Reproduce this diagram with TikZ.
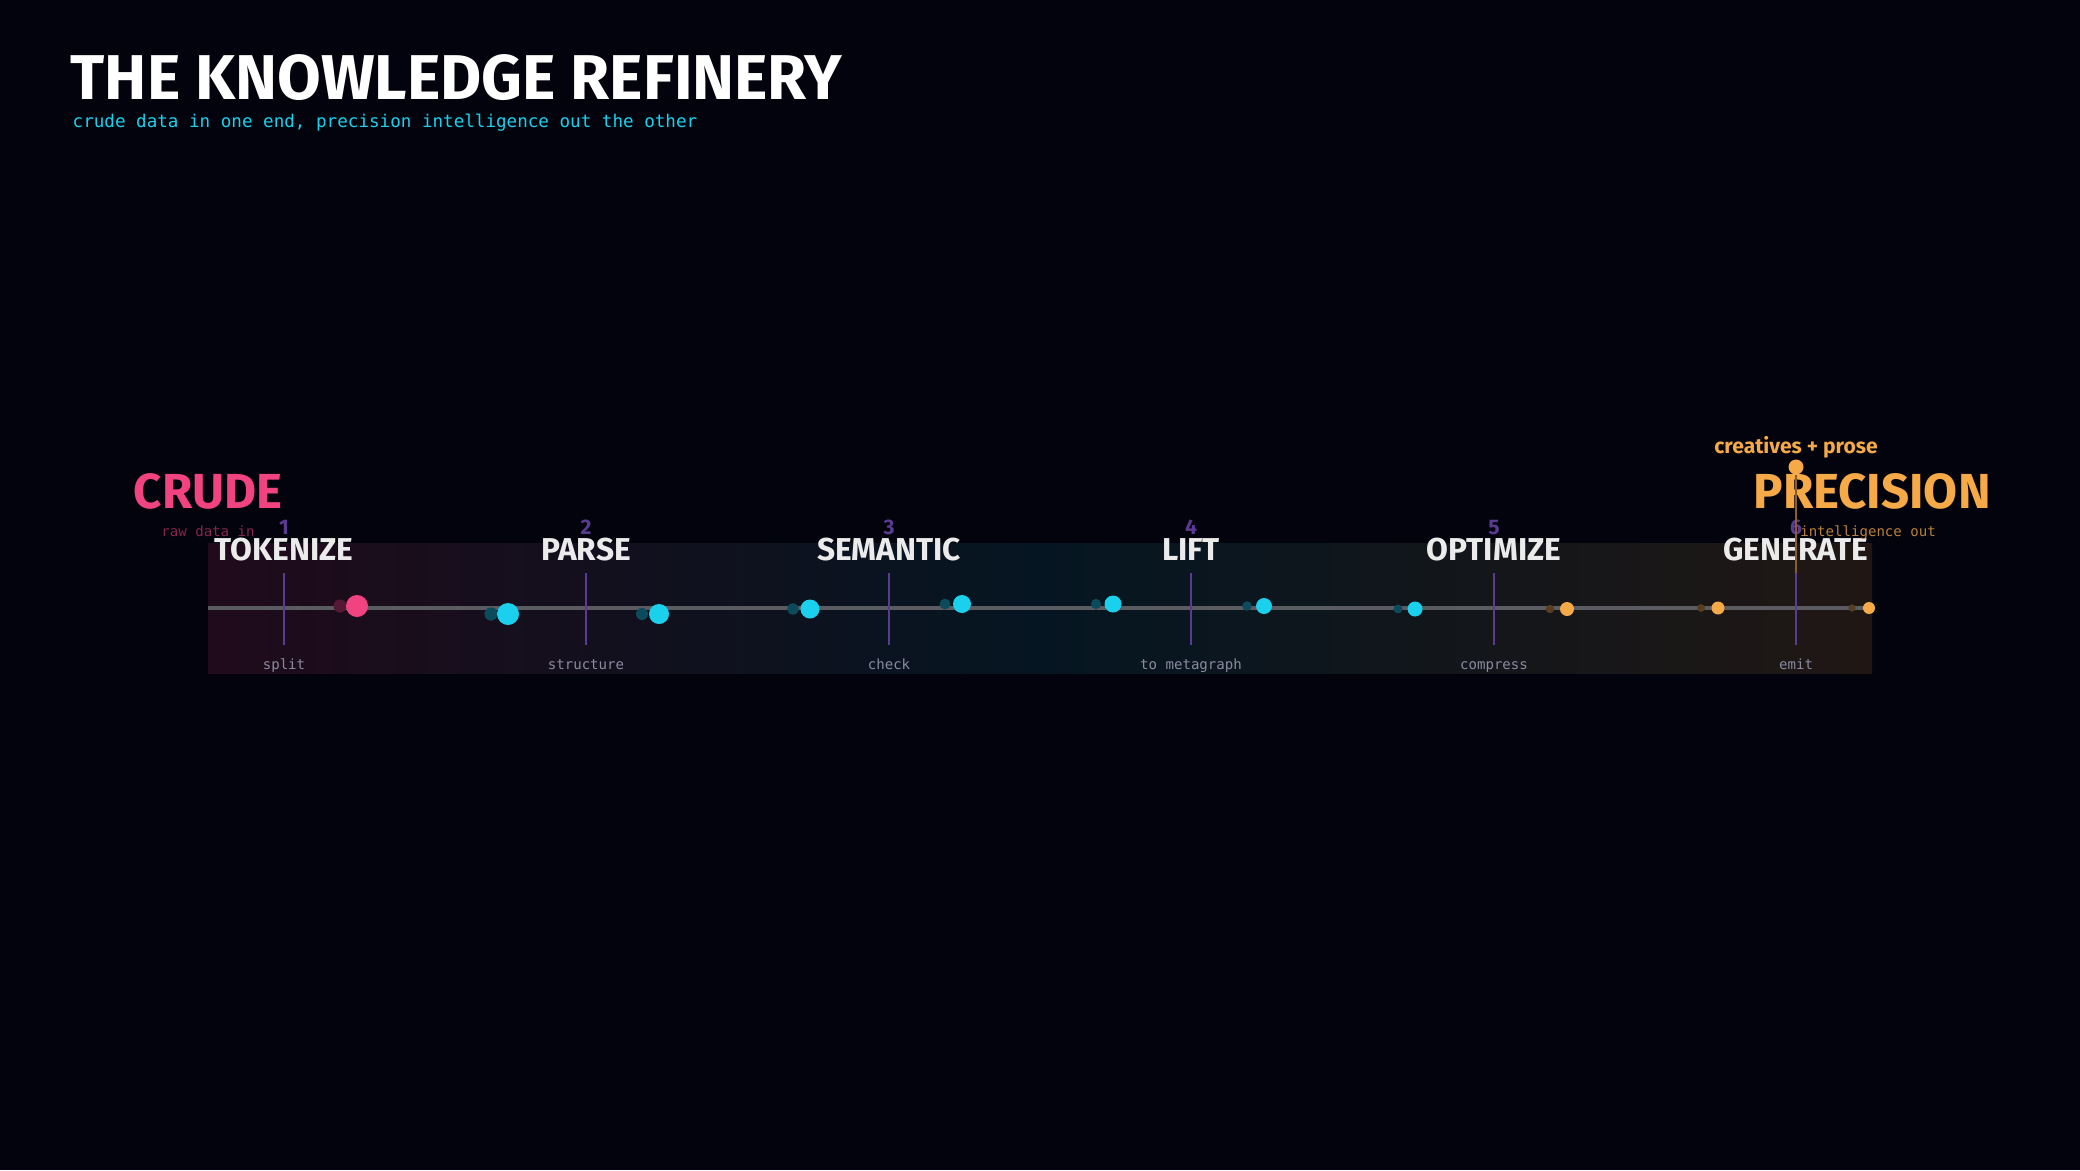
\documentclass[tikz,border=0pt]{standalone}
\usepackage{fontspec}
\setmainfont{Fira Sans}
\newfontfamily\monofont{DejaVu Sans Mono}
\usetikzlibrary{positioning}
\definecolor{bg}{HTML}{03030D}
\definecolor{crude}{HTML}{F0437F}
\definecolor{cyanish}{HTML}{1AD0EC}
\definecolor{amber}{HTML}{F5A947}
\definecolor{stagenum}{HTML}{5B3A92}
\definecolor{sublabel}{HTML}{8A8AA0}
\tikzset{
  stage/.style={font=\bfseries\fontsize{9}{9}\selectfont, text=white!92!black, inner sep=0pt},
  num/.style={font=\bfseries\fontsize{6}{6}\selectfont, text=stagenum, inner sep=0pt},
  sub/.style={font=\monofont\fontsize{4}{4}\selectfont, text=sublabel, inner sep=0pt},
  tick/.style={stagenum, line width=0.5pt},
  dot/.style={circle, inner sep=0pt, fill=#1},
}
\begin{document}
\begin{tikzpicture}[x=0.01cm, y=-0.01cm]
\useasboundingbox[fill=bg] (0,0) rectangle (2080,1170);
% heading
\node[anchor=base west, inner sep=0pt, text=white, font=\bfseries\fontsize{18}{18}\selectfont] (title) at (70,100) {THE KNOWLEDGE REFINERY};
\node[anchor=base west, inner sep=0pt, text=cyanish, font=\monofont\fontsize{5}{5}\selectfont] (subtitle) at (72,127) {crude data in one end, precision intelligence out the other};
% band
\shade[left color=crude!12!bg, right color=cyanish!9!bg] (208,543) rectangle (1040,673);
\shade[left color=cyanish!9!bg, right color=amber!12!bg] (1040,543) rectangle (1872,673);
\coordinate (lineL) at (208,608);
\coordinate (lineR) at (1872,608);
\draw[white!35!bg, line width=1.2pt] (lineL) -- (lineR);
% stages
\foreach \x/\name/\sub [count=\i] in {284/TOKENIZE/split, 586/PARSE/structure, 889/SEMANTIC/check, 1191/LIFT/to metagraph, 1494/OPTIMIZE/compress, 1796/GENERATE/emit}{
  \coordinate (t\i a) at (\x,573);
  \coordinate (t\i b) at (\x,645);
  \draw[tick] (t\i a) -- (t\i b);
  \node[num, anchor=base] (n\i) at (\x,534) {\i};
  \node[stage, anchor=base] (s\i) at (\x,560) {\name};
  \node[sub, anchor=base] (l\i) at (\x,669) {\sub};
}
% droplets
\foreach \x/\y/\r/\c [count=\j] in {357/606/11/crude, 508/614/11/cyanish, 659/614/10/cyanish, 810/609/9.5/cyanish, 962/604/9/cyanish, 1113/604/8.5/cyanish, 1264/606/8/cyanish, 1415/609/7.5/cyanish, 1567/609/7/amber, 1718/608/6.5/amber, 1869/608/6/amber}{
  \node[dot=\c!35!bg, minimum size=1.2*\r*0.01cm] (g\j) at (\x-17,\y) {};
  \node[dot=\c, minimum size=2*\r*0.01cm] (d\j) at (\x,\y) {};
}
% ends
\node[anchor=base, inner sep=0pt, text=crude, font=\bfseries\fontsize{14}{14}\selectfont] (crude) at (208,508) {CRUDE};
\node[anchor=base, inner sep=0pt, text=crude!55!bg, font=\monofont\fontsize{4}{4}\selectfont] (rawin) at (208,536) {raw data in};
\node[anchor=base, inner sep=0pt, text=amber, font=\bfseries\fontsize{14}{14}\selectfont] (precision) at (1872,508) {PRECISION};
\node[anchor=base, inner sep=0pt, text=amber!75!bg, font=\monofont\fontsize{4}{4}\selectfont] (intout) at (1868,536) {intelligence out};
\node[anchor=base, inner sep=0pt, text=amber, font=\bfseries\fontsize{6}{6}\selectfont] (prose) at (1796,453) {creatives + prose};
\node[dot=amber, minimum size=0.15cm] (pdot) at (1796,467) {};
\draw[amber!55!bg, line width=0.6pt] (pdot) -- (t6a);
\end{tikzpicture}
\end{document}
